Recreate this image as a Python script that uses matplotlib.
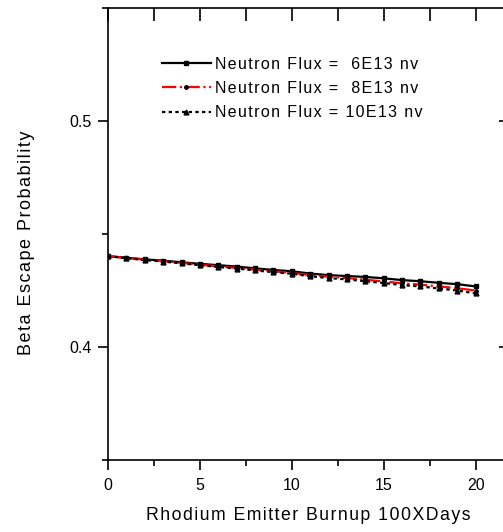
"""Beta escape probability vs rhodium emitter burnup."""
import matplotlib
matplotlib.use("Agg")
import matplotlib.pyplot as plt
from matplotlib.ticker import MultipleLocator

plt.rcParams["font.family"] = ["Liberation Sans", "DejaVu Sans"]

# data
burnup = list(range(21))
flux_6e13 = [0.4402, 0.4395, 0.4388, 0.4382, 0.4375, 0.4368, 0.4362, 0.4356, 0.4348,
             0.4341, 0.4335, 0.4325, 0.4318, 0.4314, 0.4310, 0.4304, 0.4296, 0.4291,
             0.4284, 0.4278, 0.4268]
flux_8e13 = [0.4402, 0.4394, 0.4386, 0.4380, 0.4372, 0.4364, 0.4357, 0.4350, 0.4342,
             0.4335, 0.4328, 0.4318, 0.4311, 0.4305, 0.4298, 0.4290, 0.4282, 0.4276,
             0.4268, 0.4260, 0.4250]
flux_10e13 = [0.4402, 0.4393, 0.4385, 0.4378, 0.4370, 0.4362, 0.4354, 0.4347, 0.4339,
              0.4331, 0.4324, 0.4313, 0.4305, 0.4299, 0.4291, 0.4283, 0.4274, 0.4268,
              0.4259, 0.4250, 0.4237]
labels = ["Neutron Flux =  6E13 nv", "Neutron Flux =  8E13 nv", "Neutron Flux = 10E13 nv"]


def spaced(text):
    # the original uses loose letter spacing, hair spaces get close to it
    return "\u200a".join(text)


fig = plt.figure(figsize=(5.03, 5.32), dpi=100)
ax = fig.add_axes([108 / 503, 1 - 460 / 532, 397 / 503, 452 / 532])

ax.plot(burnup, flux_6e13, color="black", lw=1.6, ls="-", marker="s", ms=3,
        label=spaced(labels[0]))
ax.plot(burnup, flux_8e13, color="red", lw=1.6, ls="-.", marker="o", ms=2.5,
        mfc="black", mec="black", label=spaced(labels[1]))
ax.plot(burnup, flux_10e13, color="black", lw=1.6, ls=(0, (1.5, 1.5)), marker="^", ms=3.5,
        label=spaced(labels[2]))

ax.set_xlim(0, 21.6)
ax.set_ylim(0.35, 0.55)
ax.xaxis.set_major_locator(MultipleLocator(5))
ax.xaxis.set_minor_locator(MultipleLocator(2.5))
ax.yaxis.set_minor_locator(MultipleLocator(0.05))
ax.set_yticks([0.4, 0.5])
ax.set_yticklabels(["0.4", "0.5"])

ax.tick_params(axis="both", which="major", direction="out", length=7, width=1.2,
               labelsize=11.5, pad=5, top=True, right=True)
ax.tick_params(axis="both", which="minor", direction="out", length=4, width=1.2,
               top=True, right=True)
ax.tick_params(axis="x", which="major", pad=6)
# top ticks point inward, all the same length
for t in ax.xaxis.get_major_ticks() + ax.xaxis.get_minor_ticks():
    t.tick2line.set_marker(3)
    t.tick2line.set_markersize(9)
for t in ax.yaxis.get_major_ticks():
    t.tick2line.set_marker(0)
    t.tick2line.set_markersize(4)
for t in ax.yaxis.get_minor_ticks():
    t.tick2line.set_visible(False)

for s in ax.spines.values():
    s.set_linewidth(1.2)

ax.set_xlabel(spaced("Rhodium Emitter Burnup 100XDays"), fontsize=12.7)
ax.xaxis.set_label_coords(0.505, -0.104)
ax.set_ylabel(spaced("Beta Escape Probability"), fontsize=13)
ax.yaxis.set_label_coords(-0.184, 0.48)

ax.legend(loc="upper left", bbox_to_anchor=(0.136, 0.892), frameon=False, fontsize=11.5,
          handlelength=3.05, handletextpad=0.3, labelspacing=0.58, borderpad=0,
          borderaxespad=0)

fig.savefig("out.png", dpi=100)
